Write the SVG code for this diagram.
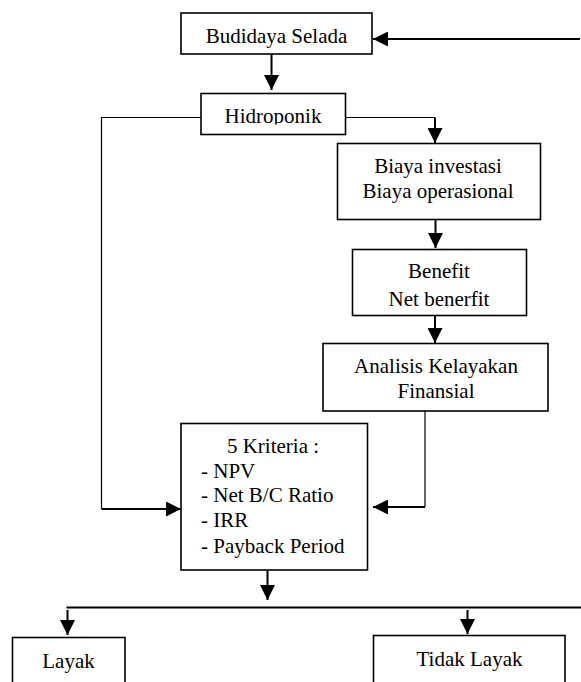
<svg xmlns="http://www.w3.org/2000/svg" width="581" height="682" viewBox="0 0 581 682">
<style>
.box{fill:#fff;stroke:#000;stroke-width:1.6}
.t{font-family:"Liberation Serif","Times New Roman",serif;font-size:21px;fill:#000}
.c{text-anchor:middle}
.thick{fill:none;stroke:#000;stroke-width:2}
.thin{fill:none;stroke:#000;stroke-width:1.2}
</style>
<defs>
<marker id="ah" markerWidth="15" markerHeight="15" refX="15" refY="7.5" orient="auto" markerUnits="userSpaceOnUse">
<path d="M0,0 L15,7.5 L0,15 Z" fill="#000"/>
</marker>
<clipPath id="hclip"><rect x="201" y="93" width="145" height="31.5"/></clipPath>
</defs>
<g id="connectors">
<path class="thick" d="M580,39 L373,39" marker-end="url(#ah)"/>
<path class="thick" d="M271.5,54 L271.5,90" marker-end="url(#ah)"/>
<path class="thin" d="M345.5,117.5 L435,117.5"/>
<path class="thick" d="M435,117.5 L435,143" marker-end="url(#ah)"/>
<path class="thick" d="M435.5,219.5 L435.5,248" marker-end="url(#ah)"/>
<path class="thick" d="M435,316 L435,343" marker-end="url(#ah)"/>
<path class="thin" d="M201,117.5 L101.5,117.5 L101.5,509"/>
<path class="thick" d="M101.5,509 L181,509" marker-end="url(#ah)"/>
<path class="thin" d="M425,411 L425,507"/>
<path class="thick" d="M425,507 L373,507" marker-end="url(#ah)"/>
<path class="thick" d="M267.5,570 L267.5,600" marker-end="url(#ah)"/>
<path class="thick" d="M66.5,607.5 L581,607.5"/>
<path class="thick" d="M67.5,610 L67.5,635" marker-end="url(#ah)"/>
<path class="thick" d="M467.5,610 L467.5,634" marker-end="url(#ah)"/>
</g>
<g id="budidaya">
<rect class="box" x="181" y="13" width="191" height="41"/>
<text class="t c" x="276.5" y="43">Budidaya Selada</text>
</g>
<g id="hidroponik">
<rect class="box" x="201" y="93.5" width="144.5" height="41"/>
<text class="t c" x="273" y="123" clip-path="url(#hclip)">Hidroponik</text>
</g>
<g id="biaya">
<rect class="box" x="337.5" y="143.5" width="203" height="76"/>
<text class="t c" x="438" y="172.5">Biaya investasi</text>
<text class="t c" x="438" y="198">Biaya operasional</text>
</g>
<g id="benefit">
<rect class="box" x="352.5" y="249.5" width="174" height="66"/>
<text class="t c" x="439" y="278">Benefit</text>
<text class="t c" x="439" y="305.5">Net benerfit</text>
</g>
<g id="analisis">
<rect class="box" x="323" y="343.5" width="225" height="67.5"/>
<text class="t c" x="436" y="373">Analisis Kelayakan</text>
<text class="t c" x="436" y="397.5">Finansial</text>
</g>
<g id="kriteria">
<rect class="box" x="181" y="423.5" width="186.5" height="146.5"/>
<text class="t c" x="273" y="453">5 Kriteria :</text>
<text class="t" x="201" y="477.5">- NPV</text>
<text class="t" x="201" y="502">- Net B/C Ratio</text>
<text class="t" x="201" y="526.5">- IRR</text>
<text class="t" x="201" y="552.5">- Payback Period</text>
</g>
<g id="layak">
<rect class="box" x="12.5" y="637.5" width="112.5" height="60"/>
<text class="t c" x="68.5" y="668">Layak</text>
</g>
<g id="tidak-layak">
<rect class="box" x="373.5" y="635.5" width="191.5" height="60"/>
<text class="t c" x="469.5" y="666">Tidak Layak</text>
</g>
</svg>
